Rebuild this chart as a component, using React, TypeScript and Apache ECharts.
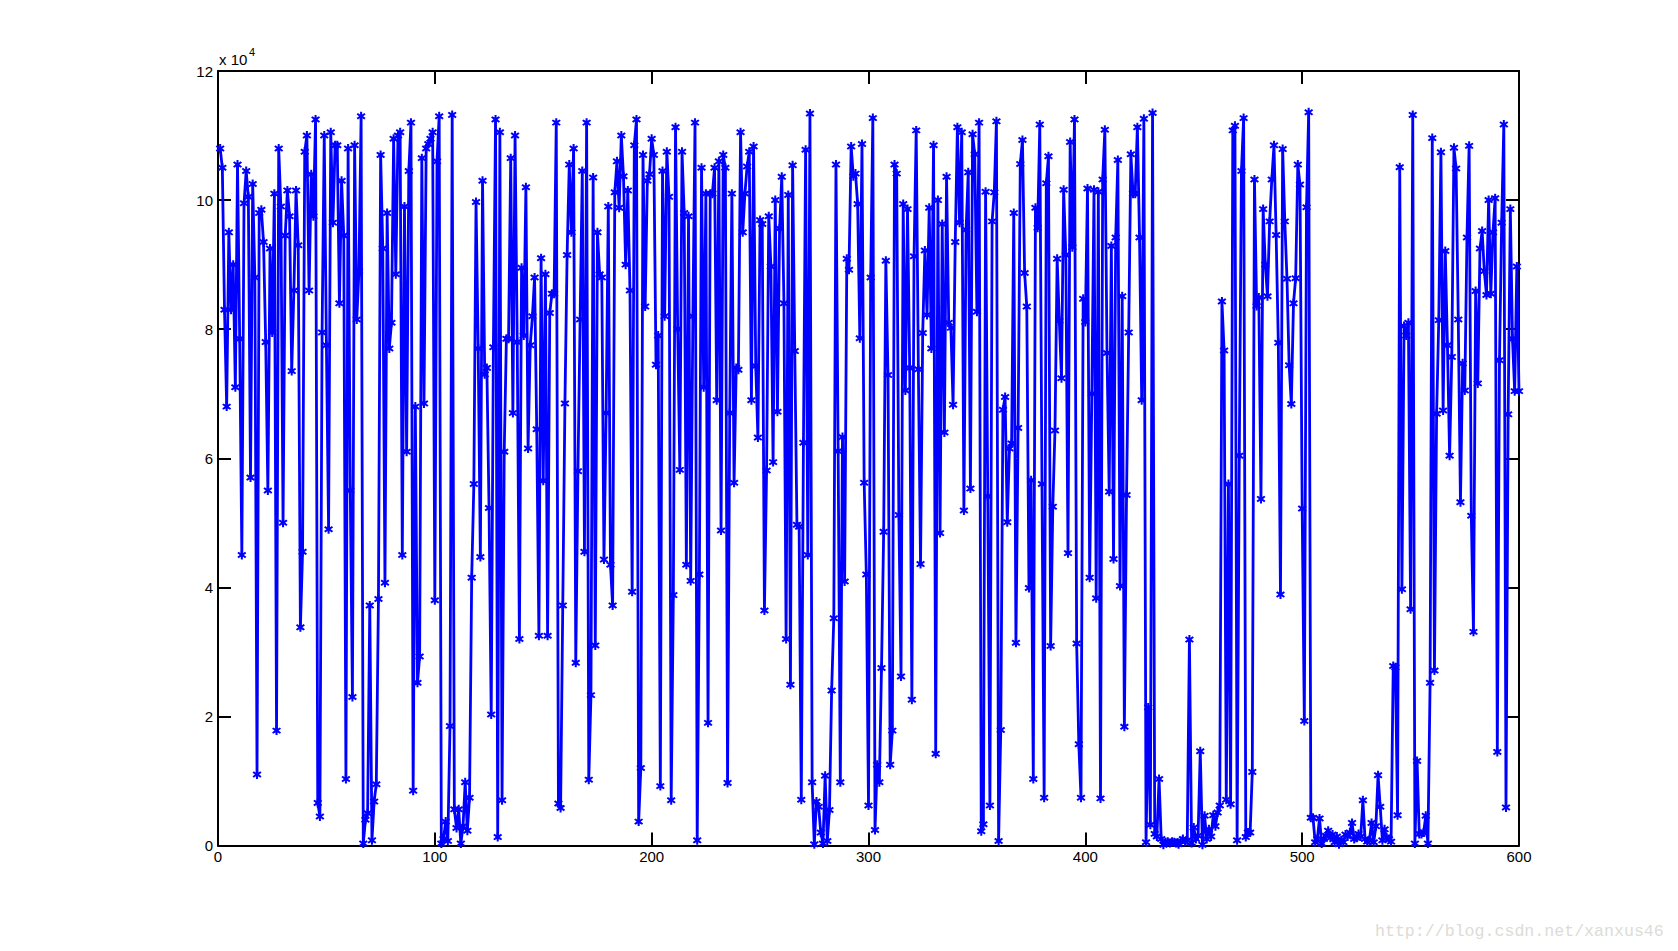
import React, { useEffect, useRef } from "react";
import * as echarts from "echarts";

const yTickLabels = ["0", "2", "4", "6", "8", "10", "12"];
const xTickLabels = ["0", "100", "200", "300", "400", "500", "600"];
const exponentBase = "x 10";
const exponentPower = "4";
const watermark = "http://blog.csdn.net/xanxus46";

// values in units of 10^4, for x = 1..100, 101..200, ...
const seg1 = [
  10.8, 10.5, 8.3, 6.8, 9.5, 8.3, 9.0, 7.1, 10.55, 7.85,
  4.5, 9.95, 10.45, 10.05, 5.7, 10.25, 8.8, 1.1, 9.8, 9.85,
  9.35, 7.8, 5.5, 9.25, 7.95, 10.1, 1.78, 10.8, 9.9, 5.0,
  9.45, 10.15, 9.75, 7.35, 8.6, 10.15, 9.3, 3.38, 4.55, 10.75,
  11.0, 8.6, 10.4, 9.75, 11.25, 0.66, 0.45, 7.95, 11.0, 7.75,
  4.9, 11.05, 9.65, 10.85, 10.85, 8.4, 10.3, 9.45, 1.03, 10.8,
  5.5, 2.3, 10.85, 8.15, 8.9, 11.3, 0.03, 0.4, 0.5, 3.72,
  0.08, 0.68, 0.95, 3.82, 10.7, 9.25, 4.07, 9.8, 7.7, 8.1,
  10.95, 8.85, 11.0, 11.05, 4.5, 9.9, 6.1, 10.45, 11.2, 0.85,
  6.8, 2.52, 2.93, 10.65, 6.85, 10.8, 10.87, 10.95, 11.05, 3.8,
];
const seg2 = [
  10.6, 11.3, 0.03, 0.1, 0.37, 0.07, 1.85, 11.32, 0.56, 0.27,
  0.56, 0.03, 0.3, 0.98, 0.23, 0.74, 4.15, 5.6, 9.97, 7.7,
  4.47, 10.3, 7.3, 7.4, 5.23, 2.03, 7.72, 11.25, 0.13, 11.05,
  0.7, 6.1, 7.85, 7.85, 10.65, 6.7, 11.0, 7.8, 3.2, 8.95,
  7.9, 10.2, 6.15, 7.75, 8.2, 8.8, 6.45, 3.25, 9.1, 5.65,
  8.85, 3.25, 8.25, 8.55, 8.55, 11.2, 0.65, 0.58, 3.72, 6.85,
  9.15, 10.55, 9.5, 10.8, 2.83, 5.8, 8.15, 10.45, 4.55, 11.2,
  1.02, 2.33, 10.35, 3.1, 9.5, 8.85, 8.8, 4.43, 6.7, 9.9,
  4.35, 3.72, 10.12, 10.6, 9.88, 11.0, 10.37, 9.0, 10.15, 8.6,
  3.93, 10.85, 11.25, 0.37, 1.2, 10.7, 8.35, 10.3, 10.4, 10.95,
];
const seg3 = [
  10.7, 7.45, 7.9, 0.92, 10.45, 8.2, 10.75, 10.05, 0.7, 3.88,
  11.13, 8.0, 5.82, 10.75, 9.8, 4.35, 9.75, 4.1, 8.2, 11.2,
  0.08, 4.2, 10.5, 7.1, 10.1, 1.9, 10.1, 10.1, 10.5, 6.9,
  10.6, 4.88, 10.7, 10.5, 0.97, 6.7, 10.1, 5.62, 7.4, 7.37,
  11.05, 9.5, 10.1, 10.52, 10.75, 6.9, 10.83, 7.43, 6.32, 9.69,
  9.63, 3.64, 5.81, 9.75, 8.97, 5.94, 10.0, 6.72, 9.56, 10.36,
  8.4, 3.2, 10.08, 2.49, 10.54, 7.66, 4.97, 4.94, 0.71, 6.24,
  10.78, 4.5, 11.34, 0.98, 0.02, 0.68, 0.6, 0.2, 0.03, 1.08,
  0.07, 0.55, 2.4, 3.52, 10.55, 6.11, 0.98, 6.33, 4.09, 9.09,
  8.92, 10.83, 10.37, 10.41, 9.94, 7.86, 10.87, 5.62, 4.2, 0.62,
];
const seg4 = [
  8.8, 11.27, 0.24, 1.25, 0.98, 2.75, 4.86, 9.06, 7.29, 1.25,
  1.78, 10.55, 10.41, 5.12, 2.62, 9.94, 7.05, 9.86, 7.4, 2.26,
  9.13, 11.08, 7.38, 4.36, 7.94, 9.22, 8.22, 9.88, 7.7, 10.85,
  1.42, 10.0, 4.84, 9.63, 6.4, 10.36, 8.1, 8.02, 6.83, 9.35,
  11.13, 9.65, 11.05, 5.19, 9.54, 10.43, 5.53, 11.02, 10.71, 8.27,
  11.2, 0.22, 0.33, 10.13, 5.41, 0.62, 9.67, 10.12, 11.22, 0.07,
  1.79, 6.75, 6.95, 5.01, 6.15, 6.23, 9.8, 3.14, 6.47, 10.56,
  10.93, 8.87, 8.35, 3.99, 5.66, 1.03, 9.88, 9.57, 11.17, 5.6,
  0.74, 10.26, 10.68, 3.09, 5.25, 6.43, 9.09, 8.13, 7.24, 10.16,
  9.15, 4.53, 10.9, 9.27, 11.25, 3.13, 1.57, 0.74, 8.47, 8.11,
];
const seg5 = [
  10.18, 4.15, 7.0, 10.16, 3.83, 10.13, 0.73, 10.32, 11.09, 7.63,
  5.48, 9.29, 4.44, 9.42, 10.62, 4.02, 8.51, 1.84, 5.43, 7.95,
  10.71, 10.1, 10.1, 11.13, 9.42, 6.9, 11.26, 0.05, 2.14, 0.32,
  11.35, 0.18, 0.14, 1.03, 0.1, 0.01, 0.05, 0.06, 0.04, 0.06,
  0.05, 0.04, 0.02, 0.07, 0.1, 0.06, 0.08, 3.19, 0.04, 0.28,
  0.1, 0.15, 1.46, 0.01, 0.46, 0.1, 0.25, 0.14, 0.47, 0.3,
  0.51, 0.62, 8.43, 7.67, 0.71, 5.6, 0.64, 11.08, 11.15, 0.08,
  6.04, 10.45, 11.27, 0.13, 0.2, 0.2, 1.14, 10.32, 8.36, 8.49,
  5.37, 9.86, 9.0, 8.51, 9.67, 10.32, 10.85, 9.46, 7.79, 3.89,
  10.79, 9.67, 8.78, 7.44, 6.84, 8.4, 8.79, 10.55, 10.24, 5.22,
];
const seg6 = [
  1.93, 9.89, 11.36, 0.43, 0.43, 0.05, 0.1, 0.42, 0.03, 0.1,
  0.15, 0.23, 0.12, 0.17, 0.05, 0.14, 0.02, 0.08, 0.05, 0.17,
  0.14, 0.2, 0.35, 0.1, 0.12, 0.18, 0.14, 0.7, 0.1, 0.06,
  0.08, 0.35, 0.05, 0.3, 1.09, 0.6, 0.08, 0.25, 0.12, 0.1,
  0.06, 2.78, 2.76, 0.47, 10.51, 3.97, 8.05, 7.9, 8.1, 3.66,
  11.32, 0.03, 1.31, 0.18, 0.18, 0.2, 0.46, 0.03, 2.52, 10.96,
  2.71, 6.69, 8.14, 10.74, 6.74, 9.21, 7.75, 6.04, 7.57, 10.81,
  10.49, 8.15, 5.32, 7.47, 7.05, 9.42, 10.84, 5.11, 3.31, 8.59,
  7.16, 9.25, 9.52, 8.9, 8.53, 10.0, 8.55, 9.5, 10.03, 1.45,
  7.52, 9.65, 11.17, 0.59, 6.68, 9.86, 7.85, 7.04, 8.97, 7.04,
];

const seriesValues = [...seg1, ...seg2, ...seg3, ...seg4, ...seg5, ...seg6];

const starSymbol =
  "path://M4 0h2v3l2.2-1.6 1.2 1.6L7 5l2.4 2-1.2 1.6L6 7v3H4V7L1.800 8.600 .6 7 3 5 .6 3 1.800 1.400 4 3z";

const sans = "'Liberation Sans', Arial, Helvetica, sans-serif";

export default function App() {
  const ref = useRef<HTMLDivElement>(null);
  useEffect(() => {
    document.body.style.margin = "0";
    document.body.style.background = "#fff";
    const chart = echarts.init(ref.current!, null, { renderer: "svg" });
    const axisStyle = {
      splitLine: { show: false },
      axisLine: { show: true, onZero: false, lineStyle: { color: "#000", width: 2 } },
      axisTick: { show: true, inside: true, length: 13, lineStyle: { color: "#000", width: 2 } },
    };
    const xAxisBase = { type: "value" as const, min: 0, max: 600, interval: 100, ...axisStyle };
    const yAxisBase = { type: "value" as const, min: 0, max: 12, interval: 2, ...axisStyle };
    const labelStyle = { show: true, color: "#000", fontSize: 15, fontFamily: sans };
    chart.setOption({
      animation: false,
      backgroundColor: "#fff",
      grid: { left: 218, top: 71, width: 1301, height: 774.5, containLabel: false },
      xAxis: [
        {
          ...xAxisBase,
          position: "bottom",
          axisLabel: { ...labelStyle, margin: 3, formatter: (v: number) => xTickLabels[v / 100] },
        },
        { ...xAxisBase, position: "top", axisLabel: { show: false } },
      ],
      yAxis: [
        {
          ...yAxisBase,
          position: "left",
          axisLabel: {
            ...labelStyle,
            margin: 5,
            padding: [0, 0, 2, 0],
            formatter: (v: number) => yTickLabels[v / 2],
          },
        },
        { ...yAxisBase, position: "right", axisLabel: { show: false } },
      ],
      series: [
        {
          type: "line",
          xAxisIndex: 0,
          yAxisIndex: 0,
          clip: false,
          data: seriesValues.map((v, i) => [i + 1, v]),
          lineStyle: { color: "#0000ff", width: 2.8 },
          itemStyle: { color: "#0000ff" },
          symbol: starSymbol,
          symbolSize: 9,
          showSymbol: true,
          showAllSymbols: true,
          smooth: false,
        },
      ],
      graphic: [
        { type: "text", x: 219, y: 52, style: { text: exponentBase, fontSize: 15, fontFamily: sans, fill: "#000" } },
        { type: "text", x: 249, y: 46, style: { text: exponentPower, fontSize: 11, fontFamily: sans, fill: "#000" } },
        {
          type: "text",
          x: 1375,
          y: 923,
          style: { text: watermark, fontSize: 16.6, fontFamily: "'Liberation Mono', monospace", fill: "#dcdcd6" },
        },
      ],
    });
    return () => chart.dispose();
  }, []);
  return <div ref={ref} style={{ position: "absolute", left: 0, top: 0, width: 1678, height: 951 }} />;
}
